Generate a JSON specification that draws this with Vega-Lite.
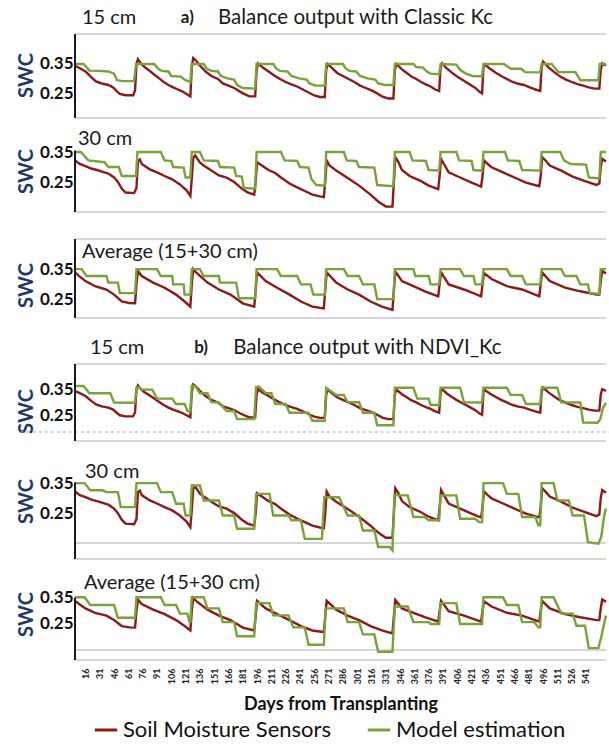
{
  "$schema": "https://vega.github.io/schema/vega-lite/v6.json",
  "background": "white",
  "padding": {"left": 16, "top": 0, "right": 5, "bottom": 2},
  "config": {
    "view": {"stroke": null},
    "font": "Lato",
    "concat": {"spacing": 0},
    "axisY": {"ticks": false, "domain": false, "grid": true, "gridColor": "#c8c8c8", "gridWidth": 1.5,
      "labelFont": "Lato", "labelFontSize": 17, "labelFontWeight": "bold", "labelColor": "#111111", "labelPadding": 2,
      "titleFont": "Lato", "titleFontSize": 20, "titleFontWeight": "bold", "titleColor": "#203864", "titlePadding": 3},
    "axisX": {"ticks": false, "domain": false, "grid": false,
      "labelFont": "Lato", "labelFontSize": 9, "labelFontWeight": "bold", "labelColor": "#222222", "labelPadding": 8,
      "titleFont": "Lato", "titleFontSize": 18, "titleFontWeight": "bold", "titleColor": "#111111", "titlePadding": 12},
    "legend": {"orient": "none", "legendX": 18, "legendY": 717, "direction": "horizontal", "symbolType": "stroke", "symbolStrokeWidth": 3,
      "symbolSize": 500, "labelFont": "Lato", "labelFontSize": 22, "labelColor": "#111111", "labelLimit": 400, "columnPadding": 30}
  },
  "datasets": {
    "sensor_15cm": [
      {"src":"S","day":5,"swc":0.344},{"src":"S","day":10,"swc":0.336},{"src":"S","day":16,"swc":0.325},{"src":"S","day":22,"swc":0.306},{"src":"S","day":27,"swc":0.292},{"src":"S","day":33,"swc":0.285},{"src":"S","day":40,"swc":0.28},{"src":"S","day":45,"swc":0.272},{"src":"S","day":48,"swc":0.262},{"src":"S","day":52,"swc":0.25},{"src":"S","day":58,"swc":0.246},{"src":"S","day":66,"swc":0.246},{"src":"S","day":68,"swc":0.262},{"src":"S","day":69.5,"swc":0.35},{"src":"S","day":71,"swc":0.366},
      {"src":"S","day":74,"swc":0.352},{"src":"S","day":78,"swc":0.34},{"src":"S","day":83,"swc":0.328},{"src":"S","day":88,"swc":0.315},{"src":"S","day":93,"swc":0.303},{"src":"S","day":98,"swc":0.29},{"src":"S","day":103,"swc":0.28},{"src":"S","day":108,"swc":0.272},{"src":"S","day":113,"swc":0.265},{"src":"S","day":118,"swc":0.258},{"src":"S","day":122,"swc":0.25},{"src":"S","day":126,"swc":0.242},{"src":"S","day":127.5,"swc":0.34},{"src":"S","day":129,"swc":0.37},{"src":"S","day":131,"swc":0.365},
      {"src":"S","day":136,"swc":0.345},{"src":"S","day":142,"swc":0.325},{"src":"S","day":148,"swc":0.31},{"src":"S","day":155,"swc":0.3},{"src":"S","day":160,"swc":0.285},{"src":"S","day":166,"swc":0.278},{"src":"S","day":172,"swc":0.27},{"src":"S","day":178,"swc":0.258},{"src":"S","day":184,"swc":0.248},{"src":"S","day":188,"swc":0.242},{"src":"S","day":194,"swc":0.242},{"src":"S","day":195.5,"swc":0.33},{"src":"S","day":197,"swc":0.352},
      {"src":"S","day":202,"swc":0.338},{"src":"S","day":208,"swc":0.325},{"src":"S","day":214,"swc":0.312},{"src":"S","day":220,"swc":0.3},{"src":"S","day":226,"swc":0.29},{"src":"S","day":232,"swc":0.282},{"src":"S","day":238,"swc":0.275},{"src":"S","day":244,"swc":0.265},{"src":"S","day":250,"swc":0.255},{"src":"S","day":256,"swc":0.245},{"src":"S","day":262,"swc":0.24},{"src":"S","day":267,"swc":0.24},{"src":"S","day":268.5,"swc":0.33},{"src":"S","day":270,"swc":0.35},
      {"src":"S","day":275,"swc":0.335},{"src":"S","day":280,"swc":0.32},{"src":"S","day":286,"swc":0.31},{"src":"S","day":292,"swc":0.3},{"src":"S","day":298,"swc":0.29},{"src":"S","day":304,"swc":0.278},{"src":"S","day":310,"swc":0.27},{"src":"S","day":316,"swc":0.262},{"src":"S","day":322,"swc":0.252},{"src":"S","day":328,"swc":0.24},{"src":"S","day":334,"swc":0.235},{"src":"S","day":339,"swc":0.235},{"src":"S","day":340.5,"swc":0.33},{"src":"S","day":342,"swc":0.35},
      {"src":"S","day":348,"swc":0.332},{"src":"S","day":353,"swc":0.32},{"src":"S","day":358,"swc":0.308},{"src":"S","day":363,"swc":0.3},{"src":"S","day":368,"swc":0.29},{"src":"S","day":373,"swc":0.282},{"src":"S","day":378,"swc":0.275},{"src":"S","day":383,"swc":0.265},{"src":"S","day":387,"swc":0.26},{"src":"S","day":388.5,"swc":0.34},{"src":"S","day":390,"swc":0.352},
      {"src":"S","day":395,"swc":0.335},{"src":"S","day":400,"swc":0.322},{"src":"S","day":405,"swc":0.31},{"src":"S","day":410,"swc":0.3},{"src":"S","day":415,"swc":0.29},{"src":"S","day":420,"swc":0.28},{"src":"S","day":425,"swc":0.27},{"src":"S","day":429,"swc":0.258},{"src":"S","day":432,"swc":0.252},{"src":"S","day":433.5,"swc":0.34},{"src":"S","day":435,"swc":0.348},
      {"src":"S","day":440,"swc":0.335},{"src":"S","day":446,"swc":0.322},{"src":"S","day":452,"swc":0.31},{"src":"S","day":458,"swc":0.3},{"src":"S","day":464,"swc":0.29},{"src":"S","day":470,"swc":0.284},{"src":"S","day":476,"swc":0.28},{"src":"S","day":482,"swc":0.272},{"src":"S","day":488,"swc":0.265},{"src":"S","day":493,"swc":0.26},{"src":"S","day":494.5,"swc":0.34},{"src":"S","day":496,"swc":0.358},
      {"src":"S","day":502,"swc":0.338},{"src":"S","day":508,"swc":0.322},{"src":"S","day":514,"swc":0.308},{"src":"S","day":520,"swc":0.298},{"src":"S","day":526,"swc":0.29},{"src":"S","day":532,"swc":0.283},{"src":"S","day":538,"swc":0.278},{"src":"S","day":544,"swc":0.272},{"src":"S","day":550,"swc":0.268},{"src":"S","day":555,"swc":0.268},{"src":"S","day":556.5,"swc":0.33},{"src":"S","day":558,"swc":0.352},{"src":"S","day":562,"swc":0.345}
    ],
    "sensor_30cm": [
      {"src":"S","day":5,"swc":0.322},{"src":"S","day":10,"swc":0.31},{"src":"S","day":16,"swc":0.303},{"src":"S","day":22,"swc":0.295},{"src":"S","day":28,"swc":0.29},{"src":"S","day":34,"swc":0.284},{"src":"S","day":40,"swc":0.278},{"src":"S","day":46,"swc":0.265},{"src":"S","day":50,"swc":0.25},{"src":"S","day":54,"swc":0.228},{"src":"S","day":58,"swc":0.215},{"src":"S","day":67,"swc":0.213},{"src":"S","day":69.5,"swc":0.23},{"src":"S","day":71,"swc":0.32},{"src":"S","day":73,"swc":0.325},
      {"src":"S","day":75,"swc":0.31},{"src":"S","day":83,"swc":0.293},{"src":"S","day":91,"swc":0.282},{"src":"S","day":99,"swc":0.27},{"src":"S","day":107,"swc":0.259},{"src":"S","day":115,"swc":0.242},{"src":"S","day":122,"swc":0.222},{"src":"S","day":126,"swc":0.203},{"src":"S","day":127.5,"swc":0.26},{"src":"S","day":129,"swc":0.33},{"src":"S","day":131,"swc":0.339},
      {"src":"S","day":136,"swc":0.315},{"src":"S","day":140,"swc":0.305},{"src":"S","day":148,"swc":0.288},{"src":"S","day":156,"swc":0.272},{"src":"S","day":164,"swc":0.265},{"src":"S","day":172,"swc":0.25},{"src":"S","day":180,"swc":0.228},{"src":"S","day":186,"swc":0.215},{"src":"S","day":193,"swc":0.208},{"src":"S","day":194.5,"swc":0.25},{"src":"S","day":196,"swc":0.316},
      {"src":"S","day":201,"swc":0.305},{"src":"S","day":208,"swc":0.29},{"src":"S","day":215,"swc":0.28},{"src":"S","day":221,"swc":0.265},{"src":"S","day":230,"swc":0.245},{"src":"S","day":238,"swc":0.232},{"src":"S","day":246,"swc":0.22},{"src":"S","day":254,"swc":0.208},{"src":"S","day":262,"swc":0.202},{"src":"S","day":266,"swc":0.2},{"src":"S","day":267.5,"swc":0.25},{"src":"S","day":269,"swc":0.322},
      {"src":"S","day":272,"swc":0.305},{"src":"S","day":279,"swc":0.288},{"src":"S","day":287,"swc":0.272},{"src":"S","day":295,"swc":0.255},{"src":"S","day":303,"swc":0.238},{"src":"S","day":315,"swc":0.208},{"src":"S","day":323,"swc":0.185},{"src":"S","day":331,"swc":0.168},{"src":"S","day":338,"swc":0.168},{"src":"S","day":339.5,"swc":0.25},{"src":"S","day":341,"swc":0.333},
      {"src":"S","day":344,"swc":0.318},{"src":"S","day":348,"swc":0.29},{"src":"S","day":356,"swc":0.27},{"src":"S","day":368,"swc":0.253},{"src":"S","day":376,"swc":0.238},{"src":"S","day":386,"swc":0.226},{"src":"S","day":387.5,"swc":0.27},{"src":"S","day":389,"swc":0.327},
      {"src":"S","day":392,"swc":0.31},{"src":"S","day":397,"swc":0.282},{"src":"S","day":409,"swc":0.265},{"src":"S","day":421,"swc":0.248},{"src":"S","day":431,"swc":0.235},{"src":"S","day":432.5,"swc":0.27},{"src":"S","day":434,"swc":0.322},
      {"src":"S","day":438,"swc":0.31},{"src":"S","day":442,"swc":0.299},{"src":"S","day":454,"swc":0.282},{"src":"S","day":466,"swc":0.265},{"src":"S","day":478,"swc":0.248},{"src":"S","day":492,"swc":0.236},{"src":"S","day":493.5,"swc":0.27},{"src":"S","day":495,"swc":0.333},
      {"src":"S","day":499,"swc":0.32},{"src":"S","day":503,"swc":0.305},{"src":"S","day":515,"swc":0.288},{"src":"S","day":527,"swc":0.268},{"src":"S","day":540,"swc":0.253},{"src":"S","day":552,"swc":0.24},{"src":"S","day":555,"swc":0.245},{"src":"S","day":556.5,"swc":0.3},{"src":"S","day":558,"swc":0.327},{"src":"S","day":562,"swc":0.318}
    ],
    "sensor_avg": [
      {"src":"S","day":5,"swc":0.339},{"src":"S","day":10,"swc":0.325},{"src":"S","day":16,"swc":0.31},{"src":"S","day":26,"swc":0.293},{"src":"S","day":38,"swc":0.282},{"src":"S","day":46,"swc":0.265},{"src":"S","day":54,"swc":0.242},{"src":"S","day":62,"swc":0.237},{"src":"S","day":68,"swc":0.236},{"src":"S","day":69.5,"swc":0.3},{"src":"S","day":71,"swc":0.344},
      {"src":"S","day":75,"swc":0.327},{"src":"S","day":87,"swc":0.305},{"src":"S","day":99,"swc":0.288},{"src":"S","day":111,"swc":0.265},{"src":"S","day":120,"swc":0.242},{"src":"S","day":126,"swc":0.225},{"src":"S","day":127.5,"swc":0.3},{"src":"S","day":129,"swc":0.35},
      {"src":"S","day":132,"swc":0.339},{"src":"S","day":144,"swc":0.305},{"src":"S","day":156,"swc":0.282},{"src":"S","day":168,"swc":0.265},{"src":"S","day":181,"swc":0.236},{"src":"S","day":193,"swc":0.225},{"src":"S","day":194.5,"swc":0.28},{"src":"S","day":196,"swc":0.339},
      {"src":"S","day":205,"swc":0.31},{"src":"S","day":217,"swc":0.288},{"src":"S","day":230,"swc":0.265},{"src":"S","day":242,"swc":0.242},{"src":"S","day":254,"swc":0.225},{"src":"S","day":266,"swc":0.219},{"src":"S","day":267.5,"swc":0.28},{"src":"S","day":269,"swc":0.339},
      {"src":"S","day":279,"swc":0.305},{"src":"S","day":291,"swc":0.282},{"src":"S","day":303,"swc":0.265},{"src":"S","day":315,"swc":0.242},{"src":"S","day":327,"swc":0.225},{"src":"S","day":338,"swc":0.214},{"src":"S","day":339.5,"swc":0.28},{"src":"S","day":341,"swc":0.342},
      {"src":"S","day":348,"swc":0.31},{"src":"S","day":360,"swc":0.293},{"src":"S","day":372,"swc":0.276},{"src":"S","day":386,"swc":0.259},{"src":"S","day":387.5,"swc":0.3},{"src":"S","day":389,"swc":0.339},
      {"src":"S","day":397,"swc":0.299},{"src":"S","day":413,"swc":0.282},{"src":"S","day":431,"swc":0.259},{"src":"S","day":432.5,"swc":0.3},{"src":"S","day":434,"swc":0.337},
      {"src":"S","day":442,"swc":0.317},{"src":"S","day":458,"swc":0.293},{"src":"S","day":474,"swc":0.282},{"src":"S","day":492,"swc":0.259},{"src":"S","day":493.5,"swc":0.3},{"src":"S","day":495,"swc":0.339},
      {"src":"S","day":503,"swc":0.31},{"src":"S","day":519,"swc":0.288},{"src":"S","day":535,"swc":0.276},{"src":"S","day":552,"swc":0.265},{"src":"S","day":555,"swc":0.265},{"src":"S","day":556.5,"swc":0.31},{"src":"S","day":558,"swc":0.344},{"src":"S","day":562,"swc":0.335}
    ],
    "model_classic_15cm": [
      {"src":"M","day":5,"swc":0.35},{"src":"M","day":14,"swc":0.35},{"src":"M","day":17,"swc":0.34},{"src":"M","day":20,"swc":0.328},{"src":"M","day":30,"swc":0.327},{"src":"M","day":40,"swc":0.325},{"src":"M","day":46,"swc":0.318},{"src":"M","day":49,"swc":0.296},{"src":"M","day":55,"swc":0.293},{"src":"M","day":67,"swc":0.293},
      {"src":"M","day":69,"swc":0.35},{"src":"M","day":88,"swc":0.35},{"src":"M","day":92,"swc":0.335},{"src":"M","day":96,"swc":0.327},{"src":"M","day":103,"swc":0.325},{"src":"M","day":106,"swc":0.31},{"src":"M","day":116,"swc":0.308},{"src":"M","day":120,"swc":0.298},{"src":"M","day":126,"swc":0.29},
      {"src":"M","day":127.5,"swc":0.35},{"src":"M","day":140,"swc":0.35},{"src":"M","day":143,"swc":0.335},{"src":"M","day":148,"swc":0.327},{"src":"M","day":155,"swc":0.325},{"src":"M","day":158,"swc":0.31},{"src":"M","day":165,"swc":0.302},{"src":"M","day":172,"swc":0.298},{"src":"M","day":175,"swc":0.28},{"src":"M","day":181,"swc":0.27},{"src":"M","day":194,"swc":0.268},
      {"src":"M","day":195.5,"swc":0.35},{"src":"M","day":213,"swc":0.35},{"src":"M","day":216,"swc":0.335},{"src":"M","day":220,"swc":0.327},{"src":"M","day":228,"swc":0.325},{"src":"M","day":232,"swc":0.31},{"src":"M","day":240,"swc":0.302},{"src":"M","day":248,"swc":0.298},{"src":"M","day":251,"swc":0.285},{"src":"M","day":257,"swc":0.278},{"src":"M","day":267,"swc":0.278},
      {"src":"M","day":268.5,"swc":0.35},{"src":"M","day":286,"swc":0.35},{"src":"M","day":289,"swc":0.335},{"src":"M","day":293,"swc":0.327},{"src":"M","day":300,"swc":0.325},{"src":"M","day":304,"swc":0.31},{"src":"M","day":312,"swc":0.302},{"src":"M","day":320,"swc":0.298},{"src":"M","day":323,"swc":0.285},{"src":"M","day":330,"swc":0.28},{"src":"M","day":339,"swc":0.28},
      {"src":"M","day":340.5,"swc":0.35},{"src":"M","day":360,"swc":0.35},{"src":"M","day":363,"swc":0.34},{"src":"M","day":370,"swc":0.338},{"src":"M","day":374,"swc":0.325},{"src":"M","day":378,"swc":0.318},{"src":"M","day":387,"swc":0.316},
      {"src":"M","day":388.5,"swc":0.35},{"src":"M","day":405,"swc":0.348},{"src":"M","day":409,"swc":0.33},{"src":"M","day":415,"swc":0.318},{"src":"M","day":422,"swc":0.31},{"src":"M","day":432,"swc":0.309},
      {"src":"M","day":433.5,"swc":0.35},{"src":"M","day":455,"swc":0.35},{"src":"M","day":462,"swc":0.334},{"src":"M","day":473,"swc":0.334},{"src":"M","day":477,"swc":0.323},{"src":"M","day":493,"swc":0.322},
      {"src":"M","day":494.5,"swc":0.35},{"src":"M","day":505,"swc":0.35},{"src":"M","day":512,"swc":0.323},{"src":"M","day":530,"swc":0.323},{"src":"M","day":535,"swc":0.296},{"src":"M","day":554,"swc":0.296},{"src":"M","day":555.5,"swc":0.35},{"src":"M","day":562,"swc":0.35}
    ],
    "model_classic_30cm": [
      {"src":"M","day":5,"swc":0.35},{"src":"M","day":11,"swc":0.35},{"src":"M","day":19,"swc":0.322},{"src":"M","day":36,"swc":0.316},{"src":"M","day":40,"swc":0.3},{"src":"M","day":51,"swc":0.3},{"src":"M","day":54,"swc":0.27},{"src":"M","day":69,"swc":0.27},
      {"src":"M","day":70.5,"swc":0.35},{"src":"M","day":95,"swc":0.35},{"src":"M","day":99,"swc":0.322},{"src":"M","day":106,"swc":0.32},{"src":"M","day":108,"swc":0.3},{"src":"M","day":119,"swc":0.298},{"src":"M","day":121,"swc":0.265},{"src":"M","day":126,"swc":0.265},
      {"src":"M","day":127.5,"swc":0.35},{"src":"M","day":136,"swc":0.35},{"src":"M","day":140,"swc":0.322},{"src":"M","day":155,"swc":0.32},{"src":"M","day":157,"swc":0.3},{"src":"M","day":172,"swc":0.298},{"src":"M","day":174,"swc":0.27},{"src":"M","day":180,"swc":0.268},{"src":"M","day":182,"swc":0.23},{"src":"M","day":194,"swc":0.228},
      {"src":"M","day":195.5,"swc":0.35},{"src":"M","day":221,"swc":0.35},{"src":"M","day":225,"swc":0.322},{"src":"M","day":238,"swc":0.32},{"src":"M","day":241,"swc":0.3},{"src":"M","day":250,"swc":0.298},{"src":"M","day":253,"swc":0.26},{"src":"M","day":258,"swc":0.24},{"src":"M","day":267,"swc":0.238},
      {"src":"M","day":268.5,"swc":0.35},{"src":"M","day":287,"swc":0.35},{"src":"M","day":290,"swc":0.322},{"src":"M","day":300,"swc":0.32},{"src":"M","day":303,"swc":0.3},{"src":"M","day":319,"swc":0.298},{"src":"M","day":322,"swc":0.24},{"src":"M","day":339,"swc":0.236},
      {"src":"M","day":340.5,"swc":0.35},{"src":"M","day":356,"swc":0.35},{"src":"M","day":359,"swc":0.322},{"src":"M","day":373,"swc":0.32},{"src":"M","day":376,"swc":0.29},{"src":"M","day":387,"swc":0.288},
      {"src":"M","day":388.5,"swc":0.35},{"src":"M","day":405,"swc":0.35},{"src":"M","day":408,"swc":0.322},{"src":"M","day":421,"swc":0.32},{"src":"M","day":423,"swc":0.29},{"src":"M","day":432,"swc":0.288},
      {"src":"M","day":433.5,"swc":0.35},{"src":"M","day":456,"swc":0.35},{"src":"M","day":459,"swc":0.322},{"src":"M","day":471,"swc":0.32},{"src":"M","day":474,"swc":0.29},{"src":"M","day":493,"swc":0.288},
      {"src":"M","day":494.5,"swc":0.35},{"src":"M","day":514,"swc":0.35},{"src":"M","day":518,"swc":0.322},{"src":"M","day":525,"swc":0.31},{"src":"M","day":541,"swc":0.308},{"src":"M","day":544,"swc":0.265},{"src":"M","day":555,"swc":0.262},{"src":"M","day":556.5,"swc":0.35},{"src":"M","day":562,"swc":0.35}
    ],
    "model_classic_avg": [
      {"src":"M","day":5,"swc":0.35},{"src":"M","day":12,"swc":0.35},{"src":"M","day":17,"swc":0.327},{"src":"M","day":38,"swc":0.327},{"src":"M","day":40,"swc":0.305},{"src":"M","day":50,"swc":0.305},{"src":"M","day":52,"swc":0.27},{"src":"M","day":68,"swc":0.27},
      {"src":"M","day":69.5,"swc":0.35},{"src":"M","day":91,"swc":0.35},{"src":"M","day":95,"swc":0.327},{"src":"M","day":107,"swc":0.327},{"src":"M","day":108,"swc":0.299},{"src":"M","day":119,"swc":0.299},{"src":"M","day":120,"swc":0.265},{"src":"M","day":126,"swc":0.265},
      {"src":"M","day":127.5,"swc":0.35},{"src":"M","day":136,"swc":0.35},{"src":"M","day":140,"swc":0.327},{"src":"M","day":156,"swc":0.327},{"src":"M","day":157,"swc":0.305},{"src":"M","day":174,"swc":0.305},{"src":"M","day":177,"swc":0.253},{"src":"M","day":194,"swc":0.253},
      {"src":"M","day":195.5,"swc":0.35},{"src":"M","day":217,"swc":0.35},{"src":"M","day":221,"swc":0.327},{"src":"M","day":238,"swc":0.327},{"src":"M","day":242,"swc":0.299},{"src":"M","day":252,"swc":0.299},{"src":"M","day":255,"swc":0.265},{"src":"M","day":267,"swc":0.265},
      {"src":"M","day":268.5,"swc":0.35},{"src":"M","day":287,"swc":0.35},{"src":"M","day":291,"swc":0.327},{"src":"M","day":303,"swc":0.327},{"src":"M","day":307,"swc":0.299},{"src":"M","day":319,"swc":0.299},{"src":"M","day":322,"swc":0.25},{"src":"M","day":339,"swc":0.25},
      {"src":"M","day":340.5,"swc":0.35},{"src":"M","day":360,"swc":0.35},{"src":"M","day":362,"swc":0.327},{"src":"M","day":376,"swc":0.327},{"src":"M","day":378,"swc":0.299},{"src":"M","day":387,"swc":0.299},
      {"src":"M","day":388.5,"swc":0.35},{"src":"M","day":409,"swc":0.35},{"src":"M","day":413,"swc":0.327},{"src":"M","day":423,"swc":0.327},{"src":"M","day":425,"swc":0.299},{"src":"M","day":432,"swc":0.299},
      {"src":"M","day":433.5,"swc":0.35},{"src":"M","day":458,"swc":0.35},{"src":"M","day":462,"swc":0.327},{"src":"M","day":474,"swc":0.327},{"src":"M","day":478,"swc":0.299},{"src":"M","day":493,"swc":0.299},
      {"src":"M","day":494.5,"swc":0.35},{"src":"M","day":515,"swc":0.35},{"src":"M","day":519,"swc":0.327},{"src":"M","day":531,"swc":0.327},{"src":"M","day":535,"swc":0.299},{"src":"M","day":543,"swc":0.299},{"src":"M","day":545,"swc":0.27},{"src":"M","day":555,"swc":0.268},{"src":"M","day":556.5,"swc":0.35},{"src":"M","day":562,"swc":0.35}
    ],
    "model_ndvi_15cm": [
      {"src":"M","day":5,"swc":0.364},{"src":"M","day":14,"swc":0.364},{"src":"M","day":20,"swc":0.336},{"src":"M","day":42,"swc":0.336},{"src":"M","day":46,"swc":0.3},{"src":"M","day":65,"swc":0.299},{"src":"M","day":68,"swc":0.3},{"src":"M","day":69.5,"swc":0.357},{"src":"M","day":72,"swc":0.36},
      {"src":"M","day":75,"swc":0.35},{"src":"M","day":86,"swc":0.35},{"src":"M","day":91,"swc":0.315},{"src":"M","day":107,"swc":0.315},{"src":"M","day":111,"swc":0.294},{"src":"M","day":120,"swc":0.294},{"src":"M","day":123,"swc":0.267},{"src":"M","day":126,"swc":0.265},{"src":"M","day":127.5,"swc":0.365},{"src":"M","day":131,"swc":0.365},
      {"src":"M","day":136,"swc":0.336},{"src":"M","day":144,"swc":0.336},{"src":"M","day":148,"swc":0.301},{"src":"M","day":156,"swc":0.3},{"src":"M","day":164,"swc":0.267},{"src":"M","day":172,"swc":0.267},{"src":"M","day":175,"swc":0.235},{"src":"M","day":193,"swc":0.235},{"src":"M","day":195,"swc":0.36},{"src":"M","day":198,"swc":0.362},
      {"src":"M","day":205,"swc":0.336},{"src":"M","day":211,"swc":0.336},{"src":"M","day":215,"swc":0.294},{"src":"M","day":226,"swc":0.294},{"src":"M","day":230,"swc":0.26},{"src":"M","day":250,"swc":0.26},{"src":"M","day":254,"swc":0.229},{"src":"M","day":267,"swc":0.229},{"src":"M","day":268.5,"swc":0.357},
      {"src":"M","day":271,"swc":0.35},{"src":"M","day":279,"swc":0.329},{"src":"M","day":287,"swc":0.329},{"src":"M","day":291,"swc":0.301},{"src":"M","day":303,"swc":0.301},{"src":"M","day":307,"swc":0.26},{"src":"M","day":319,"swc":0.26},{"src":"M","day":322,"swc":0.211},{"src":"M","day":339,"swc":0.211},{"src":"M","day":340.5,"swc":0.357},
      {"src":"M","day":360,"swc":0.357},{"src":"M","day":364,"swc":0.315},{"src":"M","day":376,"swc":0.315},{"src":"M","day":378,"swc":0.29},{"src":"M","day":387,"swc":0.29},{"src":"M","day":388.5,"swc":0.357},
      {"src":"M","day":409,"swc":0.357},{"src":"M","day":413,"swc":0.301},{"src":"M","day":432,"swc":0.3},{"src":"M","day":433.5,"swc":0.357},
      {"src":"M","day":458,"swc":0.357},{"src":"M","day":462,"swc":0.33},{"src":"M","day":474,"swc":0.329},{"src":"M","day":478,"swc":0.294},{"src":"M","day":493,"swc":0.294},{"src":"M","day":494.5,"swc":0.357},
      {"src":"M","day":511,"swc":0.357},{"src":"M","day":515,"swc":0.301},{"src":"M","day":535,"swc":0.3},{"src":"M","day":538,"swc":0.222},{"src":"M","day":553,"swc":0.221},{"src":"M","day":556,"swc":0.235},{"src":"M","day":559,"swc":0.28},{"src":"M","day":562,"swc":0.298}
    ],
    "model_ndvi_30cm": [
      {"src":"M","day":5,"swc":0.35},{"src":"M","day":15,"swc":0.35},{"src":"M","day":21,"swc":0.326},{"src":"M","day":34,"swc":0.326},{"src":"M","day":38,"swc":0.32},{"src":"M","day":50,"swc":0.32},{"src":"M","day":53,"swc":0.27},{"src":"M","day":68,"swc":0.27},
      {"src":"M","day":69.5,"swc":0.35},{"src":"M","day":91,"swc":0.35},{"src":"M","day":95,"swc":0.32},{"src":"M","day":107,"swc":0.32},{"src":"M","day":111,"swc":0.281},{"src":"M","day":119,"swc":0.281},{"src":"M","day":121,"swc":0.242},{"src":"M","day":126,"swc":0.242},
      {"src":"M","day":127.5,"swc":0.342},{"src":"M","day":136,"swc":0.342},{"src":"M","day":140,"swc":0.292},{"src":"M","day":156,"swc":0.292},{"src":"M","day":160,"swc":0.242},{"src":"M","day":172,"swc":0.242},{"src":"M","day":175,"swc":0.198},{"src":"M","day":193,"swc":0.198},
      {"src":"M","day":195,"swc":0.314},{"src":"M","day":209,"swc":0.314},{"src":"M","day":213,"swc":0.242},{"src":"M","day":229,"swc":0.242},{"src":"M","day":232,"swc":0.226},{"src":"M","day":242,"swc":0.226},{"src":"M","day":246,"swc":0.164},{"src":"M","day":264,"swc":0.164},
      {"src":"M","day":266.5,"swc":0.303},{"src":"M","day":282,"swc":0.303},{"src":"M","day":291,"swc":0.242},{"src":"M","day":303,"swc":0.242},{"src":"M","day":307,"swc":0.192},{"src":"M","day":319,"swc":0.192},{"src":"M","day":323,"swc":0.137},{"src":"M","day":335,"swc":0.137},{"src":"M","day":338,"swc":0.126},
      {"src":"M","day":340,"swc":0.309},{"src":"M","day":354,"swc":0.309},{"src":"M","day":360,"swc":0.237},{"src":"M","day":372,"swc":0.237},{"src":"M","day":376,"swc":0.226},{"src":"M","day":387,"swc":0.226},
      {"src":"M","day":388.5,"swc":0.309},{"src":"M","day":405,"swc":0.309},{"src":"M","day":409,"swc":0.231},{"src":"M","day":425,"swc":0.231},{"src":"M","day":429,"swc":0.22},{"src":"M","day":432,"swc":0.22},
      {"src":"M","day":433.5,"swc":0.35},{"src":"M","day":454,"swc":0.35},{"src":"M","day":458,"swc":0.314},{"src":"M","day":470,"swc":0.314},{"src":"M","day":474,"swc":0.237},{"src":"M","day":488,"swc":0.237},{"src":"M","day":491,"swc":0.209},{"src":"M","day":493,"swc":0.209},
      {"src":"M","day":494.5,"swc":0.35},{"src":"M","day":507,"swc":0.35},{"src":"M","day":511,"swc":0.292},{"src":"M","day":523,"swc":0.292},{"src":"M","day":527,"swc":0.242},{"src":"M","day":539,"swc":0.242},{"src":"M","day":543,"swc":0.153},{"src":"M","day":554,"swc":0.148},{"src":"M","day":557,"swc":0.17},{"src":"M","day":560,"swc":0.24},{"src":"M","day":562,"swc":0.265}
    ],
    "model_ndvi_avg": [
      {"src":"M","day":5,"swc":0.353},{"src":"M","day":15,"swc":0.353},{"src":"M","day":21,"swc":0.323},{"src":"M","day":46,"swc":0.323},{"src":"M","day":50,"swc":0.274},{"src":"M","day":68,"swc":0.274},
      {"src":"M","day":69.5,"swc":0.353},{"src":"M","day":95,"swc":0.353},{"src":"M","day":99,"swc":0.323},{"src":"M","day":111,"swc":0.323},{"src":"M","day":115,"swc":0.29},{"src":"M","day":123,"swc":0.29},{"src":"M","day":125,"swc":0.257},{"src":"M","day":126,"swc":0.257},
      {"src":"M","day":127.5,"swc":0.353},{"src":"M","day":140,"swc":0.353},{"src":"M","day":144,"swc":0.31},{"src":"M","day":156,"swc":0.31},{"src":"M","day":160,"swc":0.257},{"src":"M","day":172,"swc":0.257},{"src":"M","day":175,"swc":0.203},{"src":"M","day":193,"swc":0.203},
      {"src":"M","day":195,"swc":0.33},{"src":"M","day":209,"swc":0.33},{"src":"M","day":213,"swc":0.283},{"src":"M","day":229,"swc":0.283},{"src":"M","day":234,"swc":0.237},{"src":"M","day":246,"swc":0.237},{"src":"M","day":250,"swc":0.17},{"src":"M","day":266,"swc":0.17},
      {"src":"M","day":268,"swc":0.31},{"src":"M","day":287,"swc":0.31},{"src":"M","day":291,"swc":0.257},{"src":"M","day":303,"swc":0.257},{"src":"M","day":307,"swc":0.21},{"src":"M","day":319,"swc":0.21},{"src":"M","day":323,"swc":0.143},{"src":"M","day":338,"swc":0.143},
      {"src":"M","day":340.5,"swc":0.317},{"src":"M","day":354,"swc":0.317},{"src":"M","day":360,"swc":0.257},{"src":"M","day":376,"swc":0.257},{"src":"M","day":378,"swc":0.25},{"src":"M","day":387,"swc":0.25},
      {"src":"M","day":388.5,"swc":0.33},{"src":"M","day":405,"swc":0.33},{"src":"M","day":409,"swc":0.25},{"src":"M","day":432,"swc":0.25},
      {"src":"M","day":433.5,"swc":0.353},{"src":"M","day":454,"swc":0.353},{"src":"M","day":458,"swc":0.323},{"src":"M","day":470,"swc":0.323},{"src":"M","day":474,"swc":0.257},{"src":"M","day":487,"swc":0.257},{"src":"M","day":491,"swc":0.237},{"src":"M","day":493,"swc":0.237},
      {"src":"M","day":494.5,"swc":0.353},{"src":"M","day":507,"swc":0.353},{"src":"M","day":515,"swc":0.29},{"src":"M","day":527,"swc":0.29},{"src":"M","day":531,"swc":0.243},{"src":"M","day":540,"swc":0.243},{"src":"M","day":544,"swc":0.157},{"src":"M","day":554,"swc":0.157},{"src":"M","day":557,"swc":0.2},{"src":"M","day":562,"swc":0.283}
    ]
  },
  "vconcat": [
    {
      "width": 531, "height": 118,
      "resolve": {"axis": {"x": "independent", "y": "independent"}},
      "layer": [
        {"data": {"values": [{}]}, "mark": {"type": "rule", "color": "#c8c8c8", "strokeWidth": 1.5}, "encoding": {"y": {"datum": 0.45, "axis": null}}},
        {"data": {"values": [{}]}, "mark": {"type": "rule", "color": "#c8c8c8", "strokeWidth": 1.5}, "encoding": {"y": {"datum": 0.17, "axis": null}}},
        {"data": {"name": "sensor_15cm"}, "mark": {"type": "line", "strokeWidth": 2.4},
         "encoding": {
           "x": {"field": "day", "type": "quantitative", "scale": {"domain": [5, 562], "nice": false, "zero": false}, "axis": null},
           "y": {"field": "swc", "type": "quantitative", "scale": {"domain": [0.17, 0.5633], "nice": false, "zero": false},
                 "axis": {"orient": "left", "values": [0.25, 0.35], "format": ".2f", "title": "SWC", "titleY": 75}},
           "color": {"field": "src", "type": "nominal",
             "scale": {"domain": ["S", "M"], "range": ["#8b1a1a", "#78a23a"]},
             "legend": {"title": null, "labelExpr": "datum.value == 'S' ? 'Soil Moisture Sensors' : 'Model estimation'"}}}},
        {"data": {"name": "model_classic_15cm"}, "mark": {"type": "line", "strokeWidth": 2.4},
         "encoding": {"x": {"field": "day", "type": "quantitative", "axis": null}, "y": {"field": "swc", "type": "quantitative", "axis": null}, "color": {"field": "src", "type": "nominal"}}},
        {"data": {"values": [{}]}, "mark": {"type": "rule", "color": "#1a1a1a", "strokeWidth": 2},
         "encoding": {"x": {"datum": 5, "axis": null}, "y": {"datum": 0.17, "axis": null}, "y2": {"datum": 0.45}}},
        {"data": {"values": [{}]}, "mark": {"type": "text", "align": "left", "baseline": "middle", "fontSize": 20, "color": "#1a1a1a"},
         "encoding": {"x": {"datum": 12.3, "axis": null}, "y": {"datum": 0.503, "axis": null}, "text": {"value": "15 cm"}}},
        {"data": {"values": [{}]}, "mark": {"type": "text", "align": "left", "baseline": "middle", "fontSize": 17, "fontWeight": "bold", "color": "#1a1a1a"},
         "encoding": {"x": {"datum": 116, "axis": null}, "y": {"datum": 0.503, "axis": null}, "text": {"value": "a)"}}},
        {"data": {"values": [{}]}, "mark": {"type": "text", "align": "left", "baseline": "middle", "fontSize": 20.5, "color": "#1a1a1a"},
         "encoding": {"x": {"datum": 155, "axis": null}, "y": {"datum": 0.503, "axis": null}, "text": {"value": "Balance output with Classic Kc"}}}
      ]
    },
    {
      "width": 531, "height": 93,
      "resolve": {"axis": {"x": "independent", "y": "independent"}},
      "layer": [
        {"data": {"values": [{}]}, "mark": {"type": "rule", "color": "#c8c8c8", "strokeWidth": 1.5}, "encoding": {"y": {"datum": 0.15, "axis": null}}},
        {"data": {"name": "sensor_30cm"}, "mark": {"type": "line", "strokeWidth": 2.4},
         "encoding": {
           "x": {"field": "day", "type": "quantitative", "scale": {"domain": [5, 562], "nice": false, "zero": false}, "axis": null},
           "y": {"field": "swc", "type": "quantitative", "scale": {"domain": [0.15, 0.46], "nice": false, "zero": false},
                 "axis": {"orient": "left", "values": [0.25, 0.35], "format": ".2f", "title": "SWC", "titleY": 52}},
           "color": {"field": "src", "type": "nominal"}}},
        {"data": {"name": "model_classic_30cm"}, "mark": {"type": "line", "strokeWidth": 2.4},
         "encoding": {"x": {"field": "day", "type": "quantitative", "axis": null}, "y": {"field": "swc", "type": "quantitative", "axis": null}, "color": {"field": "src", "type": "nominal"}}},
        {"data": {"values": [{}]}, "mark": {"type": "rule", "color": "#1a1a1a", "strokeWidth": 2},
         "encoding": {"x": {"datum": 5, "axis": null}, "y": {"datum": 0.15, "axis": null}, "y2": {"datum": 0.355}}},
        {"data": {"values": [{}]}, "mark": {"type": "text", "align": "left", "baseline": "middle", "fontSize": 20, "color": "#1a1a1a"},
         "encoding": {"x": {"datum": 8.1, "axis": null}, "y": {"datum": 0.393, "axis": null}, "text": {"value": "30 cm"}}}
      ]
    },
    {
      "width": 531, "height": 105,
      "resolve": {"axis": {"x": "independent", "y": "independent"}},
      "layer": [
        {"data": {"values": [{}]}, "mark": {"type": "rule", "color": "#c8c8c8", "strokeWidth": 1.5}, "encoding": {"y": {"datum": 0.45, "axis": null}}},
        {"data": {"values": [{}]}, "mark": {"type": "rule", "color": "#c8c8c8", "strokeWidth": 1.5}, "encoding": {"y": {"datum": 0.187, "axis": null}}},
        {"data": {"name": "sensor_avg"}, "mark": {"type": "line", "strokeWidth": 2.4},
         "encoding": {
           "x": {"field": "day", "type": "quantitative", "scale": {"domain": [5, 562], "nice": false, "zero": false}, "axis": null},
           "y": {"field": "swc", "type": "quantitative", "scale": {"domain": [0.187, 0.537], "nice": false, "zero": false},
                 "axis": {"orient": "left", "values": [0.25, 0.35], "format": ".2f", "title": "SWC", "titleY": 72}},
           "color": {"field": "src", "type": "nominal"}}},
        {"data": {"name": "model_classic_avg"}, "mark": {"type": "line", "strokeWidth": 2.4},
         "encoding": {"x": {"field": "day", "type": "quantitative", "axis": null}, "y": {"field": "swc", "type": "quantitative", "axis": null}, "color": {"field": "src", "type": "nominal"}}},
        {"data": {"values": [{}]}, "mark": {"type": "rule", "color": "#1a1a1a", "strokeWidth": 2},
         "encoding": {"x": {"datum": 5, "axis": null}, "y": {"datum": 0.187, "axis": null}, "y2": {"datum": 0.45}}},
        {"data": {"values": [{}]}, "mark": {"type": "text", "align": "left", "baseline": "middle", "fontSize": 20, "color": "#1a1a1a"},
         "encoding": {"x": {"datum": 12.3, "axis": null}, "y": {"datum": 0.407, "axis": null}, "text": {"value": "Average (15+30 cm)"}}}
      ]
    },
    {
      "width": 531, "height": 122,
      "resolve": {"axis": {"x": "independent", "y": "independent"}},
      "layer": [
        {"data": {"values": [{}]}, "mark": {"type": "rule", "color": "#c8c8c8", "strokeWidth": 1.5}, "encoding": {"y": {"datum": 0.45, "axis": null}}},
        {"data": {"values": [{}]}, "mark": {"type": "rule", "color": "#c8c8c8", "strokeWidth": 1.5}, "encoding": {"y": {"datum": 0.15, "axis": null}}},
        {"data": {"values": [{}]}, "mark": {"type": "rule", "color": "#6fbcd6", "strokeWidth": 1, "strokeDash": [3, 3]},
         "encoding": {"x": {"datum": -52, "axis": null}, "x2": {"datum": 566}, "y": {"datum": 0.185, "axis": null}}},
        {"data": {"name": "sensor_15cm"}, "mark": {"type": "line", "strokeWidth": 2.4},
         "encoding": {
           "x": {"field": "day", "type": "quantitative", "scale": {"domain": [5, 562], "nice": false, "zero": false}, "axis": null},
           "y": {"field": "swc", "type": "quantitative", "scale": {"domain": [0.15, 0.6247], "nice": false, "zero": false},
                 "axis": {"orient": "left", "values": [0.25, 0.35], "format": ".2f", "title": "SWC", "titleY": 92}},
           "color": {"field": "src", "type": "nominal"}}},
        {"data": {"name": "model_ndvi_15cm"}, "mark": {"type": "line", "strokeWidth": 2.4},
         "encoding": {"x": {"field": "day", "type": "quantitative", "axis": null}, "y": {"field": "swc", "type": "quantitative", "axis": null}, "color": {"field": "src", "type": "nominal"}}},
        {"data": {"values": [{}]}, "mark": {"type": "rule", "color": "#1a1a1a", "strokeWidth": 2},
         "encoding": {"x": {"datum": 5, "axis": null}, "y": {"datum": 0.15, "axis": null}, "y2": {"datum": 0.45}}},
        {"data": {"values": [{}]}, "mark": {"type": "text", "align": "left", "baseline": "middle", "fontSize": 20, "color": "#1a1a1a"},
         "encoding": {"x": {"datum": 20.7, "axis": null}, "y": {"datum": 0.512, "axis": null}, "text": {"value": "15 cm"}}},
        {"data": {"values": [{}]}, "mark": {"type": "text", "align": "left", "baseline": "middle", "fontSize": 17, "fontWeight": "bold", "color": "#1a1a1a"},
         "encoding": {"x": {"datum": 130, "axis": null}, "y": {"datum": 0.512, "axis": null}, "text": {"value": "b)"}}},
        {"data": {"values": [{}]}, "mark": {"type": "text", "align": "left", "baseline": "middle", "fontSize": 20.5, "color": "#1a1a1a"},
         "encoding": {"x": {"datum": 171, "axis": null}, "y": {"datum": 0.512, "axis": null}, "text": {"value": "Balance output with NDVI_Kc"}}}
      ]
    },
    {
      "width": 531, "height": 117,
      "resolve": {"axis": {"x": "independent", "y": "independent"}},
      "layer": [
        {"data": {"values": [{}]}, "mark": {"type": "rule", "color": "#c8c8c8", "strokeWidth": 1.5}, "encoding": {"y": {"datum": 0.15, "axis": null}}},
        {"data": {"values": [{}]}, "mark": {"type": "rule", "color": "#c8c8c8", "strokeWidth": 1.5}, "encoding": {"y": {"datum": 0.097, "axis": null}}},
        {"data": {"name": "sensor_30cm"}, "mark": {"type": "line", "strokeWidth": 2.4},
         "encoding": {
           "x": {"field": "day", "type": "quantitative", "scale": {"domain": [5, 562], "nice": false, "zero": false}, "axis": null},
           "y": {"field": "swc", "type": "quantitative", "scale": {"domain": [0.097, 0.487], "nice": false, "zero": false},
                 "axis": {"orient": "left", "values": [0.25, 0.35], "format": ".2f", "title": "SWC", "titleY": 59}},
           "color": {"field": "src", "type": "nominal"}}},
        {"data": {"name": "model_ndvi_30cm"}, "mark": {"type": "line", "strokeWidth": 2.4},
         "encoding": {"x": {"field": "day", "type": "quantitative", "axis": null}, "y": {"field": "swc", "type": "quantitative", "axis": null}, "color": {"field": "src", "type": "nominal"}}},
        {"data": {"values": [{}]}, "mark": {"type": "rule", "color": "#1a1a1a", "strokeWidth": 2},
         "encoding": {"x": {"datum": 5, "axis": null}, "y": {"datum": 0.097, "axis": null}, "y2": {"datum": 0.352}}},
        {"data": {"values": [{}]}, "mark": {"type": "text", "align": "left", "baseline": "middle", "fontSize": 20, "color": "#1a1a1a"},
         "encoding": {"x": {"datum": 15.5, "axis": null}, "y": {"datum": 0.387, "axis": null}, "text": {"value": "30 cm"}}}
      ]
    },
    {
      "width": 531, "height": 100,
      "resolve": {"axis": {"x": "independent", "y": "independent"}},
      "layer": [
        {"data": {"values": [{}]}, "mark": {"type": "rule", "color": "#c8c8c8", "strokeWidth": 1.5}, "encoding": {"y": {"datum": 0.15, "axis": null}}},
        {"data": {"values": [{}]}, "mark": {"type": "rule", "color": "#c8c8c8", "strokeWidth": 1.5}, "encoding": {"y": {"datum": 0.1115, "axis": null}}},
        {"data": {"name": "sensor_avg"}, "mark": {"type": "line", "strokeWidth": 2.4},
         "encoding": {
           "x": {"field": "day", "type": "quantitative", "scale": {"domain": [5, 562], "nice": false, "zero": false},
             "axis": {"orient": "bottom", "values": [16, 31, 46, 61, 76, 91, 106, 121, 136, 151, 166, 181, 196, 211, 226, 241, 256, 271, 286, 301, 316, 331, 346, 361, 376, 391, 406, 421, 436, 451, 466, 481, 496, 511, 526, 541], "labelAngle": -90, "format": "d", "title": "Days from Transplanting"}},
           "y": {"field": "swc", "type": "quantitative", "scale": {"domain": [0.1115, 0.496], "nice": false, "zero": false},
                 "axis": {"orient": "left", "values": [0.25, 0.35], "format": ".2f", "title": "SWC", "titleY": 54}},
           "color": {"field": "src", "type": "nominal"}}},
        {"data": {"name": "model_ndvi_avg"}, "mark": {"type": "line", "strokeWidth": 2.4},
         "encoding": {"x": {"field": "day", "type": "quantitative", "axis": null}, "y": {"field": "swc", "type": "quantitative", "axis": null}, "color": {"field": "src", "type": "nominal"}}},
        {"data": {"values": [{}]}, "mark": {"type": "rule", "color": "#1a1a1a", "strokeWidth": 2},
         "encoding": {"x": {"datum": 5, "axis": null}, "y": {"datum": 0.1115, "axis": null}, "y2": {"datum": 0.352}}},
        {"data": {"values": [{}]}, "mark": {"type": "text", "align": "left", "baseline": "middle", "fontSize": 20, "color": "#1a1a1a"},
         "encoding": {"x": {"datum": 14.4, "axis": null}, "y": {"datum": 0.4077, "axis": null}, "text": {"value": "Average (15+30 cm)"}}}
      ]
    }
  ],
  "resolve": {"scale": {"x": "independent", "y": "independent"}}
}
